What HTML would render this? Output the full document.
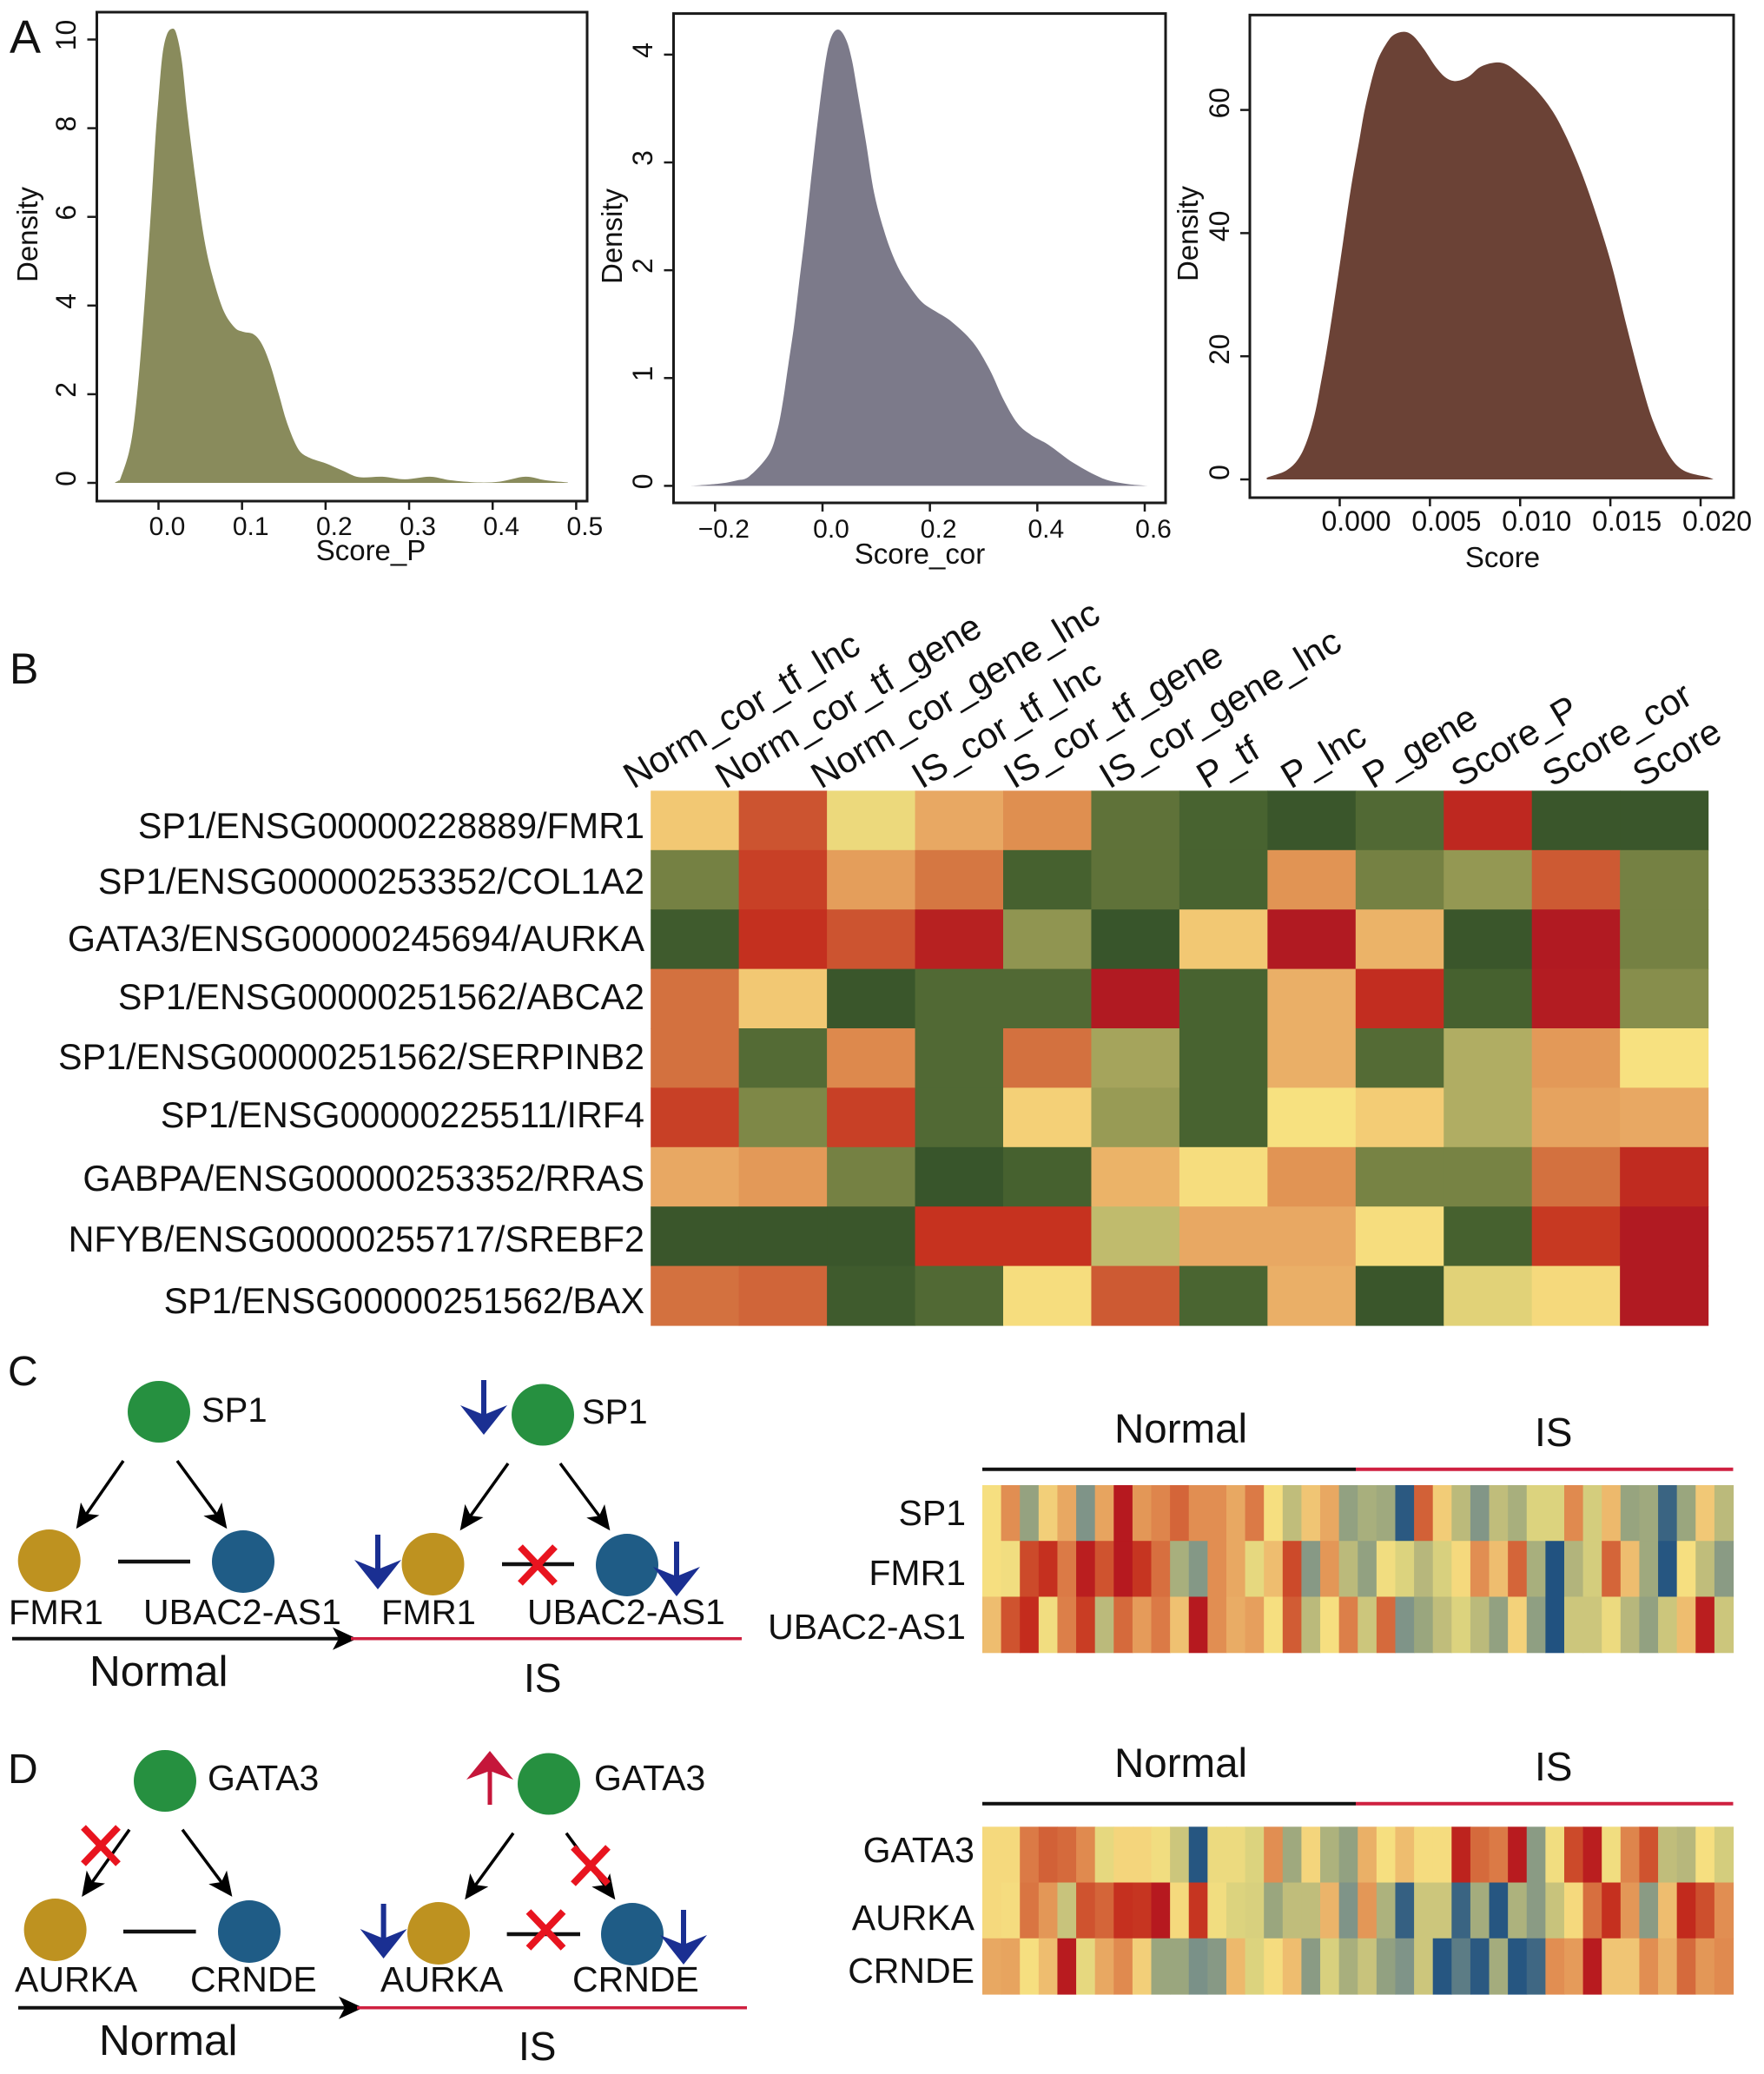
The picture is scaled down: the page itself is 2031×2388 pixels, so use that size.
<!DOCTYPE html>
<html lang="en">
<head>
<meta charset="utf-8">
<title>Density plots, score heatmap and regulatory networks</title>
<style>
html,body{margin:0;padding:0;background:#fff;}
svg{display:block;}
text{font-family:"Liberation Sans",Arial,sans-serif;fill:#111;}
</style>
</head>
<body>
<svg id="fig" xmlns="http://www.w3.org/2000/svg" width="2031" height="2388" viewBox="0 0 2031 2388">
<defs>
<marker id="stealth" markerUnits="userSpaceOnUse" markerWidth="30" markerHeight="30" viewBox="0 0 30 30" refX="24" refY="15" orient="auto">
<path d="M0,2 L28,15 L0,28 L7,15 Z" fill="#000"/>
</marker>
<g id="blue-down">
<rect x="-3" y="0" width="6" height="46" fill="#1a2f92"/>
<polygon points="-27,29 0,40 27,29 0,63" fill="#1a2f92"/>
</g>
<g id="red-x">
<line x1="-20" y1="-21" x2="20" y2="21" stroke="#e8141f" stroke-width="8"/>
<line x1="20" y1="-21" x2="-20" y2="21" stroke="#e8141f" stroke-width="8"/>
</g>
</defs>

<text x="11" y="61" font-size="54">A</text>
<text x="11" y="787" font-size="50">B</text>
<text x="9" y="1595" font-size="48">C</text>
<text x="9" y="2053" font-size="48">D</text>

<g id="panel-a"></g>
<g id="panel-b"></g>

<g font-size="42">
<text transform="translate(729,909) rotate(-31)">Norm_cor_tf_lnc</text>
<text transform="translate(835,909) rotate(-31)">Norm_cor_tf_gene</text>
<text transform="translate(945,909) rotate(-31)">Norm_cor_gene_lnc</text>
<text transform="translate(1061,909) rotate(-31)">IS_cor_tf_lnc</text>
<text transform="translate(1167,909) rotate(-31)">IS_cor_tf_gene</text>
<text transform="translate(1277,909) rotate(-31)">IS_cor_gene_lnc</text>
<text transform="translate(1389,909) rotate(-31)">P_tf</text>
<text transform="translate(1486,909) rotate(-31)">P_lnc</text>
<text transform="translate(1580,909) rotate(-31)">P_gene</text>
<text transform="translate(1682,907) rotate(-31)">Score_P</text>
<text transform="translate(1787,907) rotate(-31)">Score_cor</text>
<text transform="translate(1891,907) rotate(-31)">Score</text>
</g>

<g>
<ellipse cx="183" cy="1625.5" rx="36" ry="35.5" fill="#269040"/>
<text x="232" y="1637" font-size="40">SP1</text>
<line x1="142" y1="1682" x2="90" y2="1757" stroke="#000" stroke-width="3.5" marker-end="url(#stealth)"/>
<line x1="204" y1="1682" x2="259" y2="1757" stroke="#000" stroke-width="3.5" marker-end="url(#stealth)"/>
<ellipse cx="56.7" cy="1797" rx="36" ry="36" fill="#be9220"/>
<ellipse cx="280" cy="1798" rx="36" ry="36" fill="#1f5c86"/>
<line x1="136" y1="1798" x2="219" y2="1798" stroke="#111" stroke-width="4.5"/>
<text x="10" y="1870" font-size="40">FMR1</text>
<text x="165" y="1870" font-size="41">UBAC2-AS1</text>
<line x1="14" y1="1886.7" x2="407" y2="1886.7" stroke="#111" stroke-width="4" marker-end="url(#stealth)"/>
<line x1="404" y1="1886.7" x2="854" y2="1886.7" stroke="#cf2040" stroke-width="3.5"/>
<text x="103" y="1941" font-size="49.5">Normal</text>
<text x="603" y="1948" font-size="46">IS</text>

<ellipse cx="625" cy="1629" rx="36" ry="35.5" fill="#269040"/>
<text x="670" y="1639" font-size="40">SP1</text>
<use href="#blue-down" transform="translate(557,1589)"/>
<line x1="585" y1="1685" x2="532" y2="1759" stroke="#000" stroke-width="3.5" marker-end="url(#stealth)"/>
<line x1="645" y1="1685" x2="700" y2="1759" stroke="#000" stroke-width="3.5" marker-end="url(#stealth)"/>
<ellipse cx="498.5" cy="1801" rx="36" ry="36" fill="#be9220"/>
<use href="#blue-down" transform="translate(435,1767)"/>
<ellipse cx="722" cy="1802" rx="36" ry="36" fill="#1f5c86"/>
<use href="#blue-down" transform="translate(779,1775)"/>
<line x1="578" y1="1801" x2="661" y2="1801" stroke="#111" stroke-width="4.5"/>
<use href="#red-x" transform="translate(619,1802)"/>
<text x="439" y="1870" font-size="40">FMR1</text>
<text x="607" y="1870" font-size="41">UBAC2-AS1</text>
</g>

<g>
<ellipse cx="190" cy="2050.5" rx="36" ry="35.5" fill="#269040"/>
<text x="239" y="2061" font-size="41">GATA3</text>
<line x1="149" y1="2106.7" x2="96.5" y2="2180.7" stroke="#000" stroke-width="3.5" marker-end="url(#stealth)"/>
<line x1="210" y1="2106.7" x2="265" y2="2180.7" stroke="#000" stroke-width="3.5" marker-end="url(#stealth)"/>
<use href="#red-x" transform="translate(116,2125)"/>
<ellipse cx="63.6" cy="2222" rx="36" ry="36" fill="#be9220"/>
<ellipse cx="287" cy="2224" rx="36" ry="36" fill="#1f5c86"/>
<line x1="142" y1="2224" x2="225.6" y2="2224" stroke="#111" stroke-width="4.5"/>
<text x="17" y="2293" font-size="41">AURKA</text>
<text x="219" y="2293" font-size="41">CRNDE</text>
<line x1="21" y1="2311.7" x2="414" y2="2311.7" stroke="#111" stroke-width="4" marker-end="url(#stealth)"/>
<line x1="411" y1="2311.7" x2="860" y2="2311.7" stroke="#cf2040" stroke-width="3.5"/>
<text x="114" y="2366" font-size="49.5">Normal</text>
<text x="597" y="2372" font-size="46">IS</text>

<ellipse cx="632" cy="2054" rx="36" ry="35.5" fill="#269040"/>
<text x="684" y="2061" font-size="41">GATA3</text>
<g>
<rect x="561.5" y="2034" width="5" height="44" fill="#c5163a"/>
<polygon points="564,2016 591,2049 564,2039 537,2049" fill="#c5163a"/>
</g>
<line x1="591" y1="2110.7" x2="537.6" y2="2184" stroke="#000" stroke-width="3.5" marker-end="url(#stealth)"/>
<line x1="652" y1="2110.7" x2="706" y2="2184" stroke="#000" stroke-width="3.5" marker-end="url(#stealth)"/>
<use href="#red-x" transform="translate(680,2148)"/>
<ellipse cx="505" cy="2226" rx="36" ry="36" fill="#be9220"/>
<use href="#blue-down" transform="translate(441.6,2192)"/>
<ellipse cx="728" cy="2227" rx="36" ry="36" fill="#1f5c86"/>
<use href="#blue-down" transform="translate(787,2199)"/>
<line x1="583.6" y1="2227" x2="668" y2="2227" stroke="#111" stroke-width="4.5"/>
<use href="#red-x" transform="translate(628.5,2222)"/>
<text x="438" y="2293" font-size="41">AURKA</text>
<text x="659" y="2293" font-size="41">CRNDE</text>
</g>

<g id="panel-c-heat"></g>
<g id="panel-d-heat"></g>
</svg>

<script>
/* ---------- Panel A data ---------- */
const scorePX = [-0.052,-0.048,-0.0451,-0.0351,-0.0285,-0.0218,-0.0153,-0.0086,-0.0040,0,0.0047,0.0100,0.0159,0.0212,0.0279,0.0345,0.0444,0.0544,0.0643,0.0775,0.0908,0.1007,0.1140,0.1240,0.1339,0.1439,0.1538,0.1671,0.1804,0.2003,0.2201,0.2400,0.268,0.295,0.325,0.349,0.382,0.409,0.439,0.463,0.490];
const scorePDensity = [0.01,0.05,0.12,0.71,1.49,2.79,4.43,6.25,7.69,8.67,9.65,10.11,10.24,10.14,9.52,8.34,6.84,5.54,4.69,3.90,3.51,3.41,3.35,3.12,2.66,2.01,1.36,0.77,0.57,0.44,0.28,0.13,0.14,0.08,0.14,0.06,0.01,0.03,0.14,0.06,0.01];
const scorePXTicks = [0,0.1,0.2,0.3,0.4,0.5];
const scorePXLabels = ['0.0','0.1','0.2','0.3','0.4','0.5'];
const scorePYTicks = [0,2,4,6,8,10];

const scoreCorX = [-0.245,-0.193,-0.160,-0.136,-0.100,-0.0844,-0.0740,-0.0638,-0.0534,-0.0431,-0.0327,-0.0225,-0.0121,-0.0018,0.0086,0.0188,0.0313,0.0447,0.0551,0.0653,0.0808,0.0964,0.1169,0.1377,0.1582,0.1841,0.2099,0.2410,0.2802,0.311,0.337,0.363,0.389,0.421,0.468,0.521,0.563,0.605];
const scoreCorDensity = [0,0.02,0.05,0.09,0.29,0.51,0.77,1.12,1.47,1.90,2.33,2.79,3.25,3.67,4.02,4.19,4.23,4.13,3.94,3.65,3.19,2.71,2.33,2.06,1.88,1.71,1.62,1.52,1.33,1.08,0.80,0.58,0.47,0.38,0.21,0.07,0.02,0];
const scoreCorXTicks = [-0.2,0,0.2,0.4,0.6];
const scoreCorXLabels = ['\u22120.2','0.0','0.2','0.4','0.6'];
const scoreCorYTicks = [0,1,2,3,4];

const scoreX = [-0.00404,-0.00395,-0.00296,-0.00229,-0.00180,-0.00138,-0.00105,-0.00072,-0.00042,-0.00018,0.00006,0.00029,0.00052,0.00078,0.00107,0.00135,0.00168,0.00209,0.00259,0.00300,0.00358,0.00408,0.00466,0.00532,0.00590,0.00648,0.00714,0.00780,0.00863,0.00929,0.01012,0.01103,0.01186,0.01261,0.01343,0.01426,0.01509,0.01592,0.01675,0.01740,0.01824,0.01906,0.02038,0.02071];
const scoreDensity = [0.1,0.38,1.45,3.34,6.39,10.6,15.6,21.0,26.6,31.3,36.0,40.7,45.4,50.1,54.8,59.5,63.8,68.0,70.8,72.2,72.7,72.0,69.9,67.0,65.2,64.7,65.4,67.0,67.7,67.3,65.4,62.8,59.5,55.3,49.6,42.6,34.6,24.7,15.3,9.2,4.0,1.45,0.38,0];
const scoreXTicks = [0,0.005,0.01,0.015,0.02];
const scoreXLabels = ['0.000','0.005','0.010','0.015','0.020'];
const scoreYTicks = [0,20,40,60];

/* ---------- Panel B data ---------- */
const heatRowLabels = ['SP1/ENSG00000228889/FMR1','SP1/ENSG00000253352/COL1A2','GATA3/ENSG00000245694/AURKA','SP1/ENSG00000251562/ABCA2','SP1/ENSG00000251562/SERPINB2','SP1/ENSG00000225511/IRF4','GABPA/ENSG00000253352/RRAS','NFYB/ENSG00000255717/SREBF2','SP1/ENSG00000251562/BAX'];
const heatRow1 = [61,85,49,70,75,20,10,2,14,94,2,2];
const heatRow2 = [28,88,72,79,9,20,10,74,28,36,84,28];
const heatRow3 = [5,91,85,97,35,1,61,100,67,2,100,28];
const heatRow4 = [80,61,2,14,14,100,10,68,92,9,99,33];
const heatRow5 = [80,15,76,14,80,40,10,68,15,42,73,50];
const heatRow6 = [88,31,88,14,58,37,10,50,60,42,71,70];
const heatRow7 = [70,73,28,1,9,67,52,74,29,29,80,93];
const heatRow8 = [2,2,2,90,90,45,70,70,52,9,89,100];
const heatRow9 = [80,82,5,14,52,84,11,68,2,48,54,100];
const heatMatrix = [heatRow1,heatRow2,heatRow3,heatRow4,heatRow5,heatRow6,heatRow7,heatRow8,heatRow9];

/* ---------- Panel C data ---------- */
const cGenes = ['SP1','FMR1','UBAC2-AS1'];
const cSP1 = [50,71,28,55,65,20,66,100,69,73,79,71,71,65,75,50,38,58,65,27,33,31,3,80,56,37,21,38,33,45,45,72,43,61,29,31,6,30,57,37];
const cFMR1 = [50,49,85,91,75,98,83,100,90,77,33,22,71,65,47,60,85,23,69,37,27,49,45,36,44,52,71,60,79,33,1,35,43,79,60,31,2,50,38,24];
const cUBAC = [60,83,92,49,74,88,37,78,68,75,59,100,71,64,67,50,81,37,50,74,41,78,20,30,38,45,37,27,54,26,1,41,41,48,36,27,41,60,98,41];

/* ---------- Panel D data ---------- */
const dGenes = ['GATA3','AURKA','CRNDE'];
const dGATA3 = [52,52,75,80,78,72,47,53,53,49,41,2,48,48,45,71,31,53,34,27,63,50,60,51,51,96,78,75,99,24,49,85,98,49,73,83,38,36,50,43];
const dAURKA = [52,51,76,69,40,83,79,91,90,100,52,90,49,45,44,30,38,38,62,20,69,34,5,41,41,6,32,2,34,24,40,52,77,91,69,24,60,93,84,71];
const dCRNDE = [65,66,50,60,99,47,65,72,55,30,30,19,23,61,45,51,60,24,44,33,40,27,20,41,2,13,3,32,2,7,71,68,99,58,58,71,63,78,69,72];

/* ---------- Colour scales ---------- */
const greenRamp = [[0,'#36532a'],[10,'#486330'],[20,'#5f7239'],[30,'#7a8545'],[40,'#a5a45c'],[45,'#c0bb6d'],[50,'#f7e180'],[60,'#f3cc75'],[70,'#e8a863'],[75,'#df8f50'],[80,'#d3713f'],[85,'#cc5430'],[90,'#c6321f'],[100,'#b11a22']];
const blueRamp = [[0,'#1c4f80'],[20,'#7f9488'],[30,'#9aa67e'],[38,'#c0bd7b'],[45,'#dcd37e'],[50,'#f6df80'],[58,'#f0c574'],[65,'#e8a862'],[72,'#e08a4f'],[78,'#d56a3c'],[85,'#cc4a2a'],[92,'#c42c1d'],[100,'#b6191f']];

function hexToRgb(h){return [1,3,5].map(i=>parseInt(h.substr(i,2),16));}
function rampColor(ramp,v){
  v=Math.max(ramp[0][0],Math.min(ramp[ramp.length-1][0],v));
  for(let i=1;i<ramp.length;i++){
    if(v<=ramp[i][0]){
      const t=(v-ramp[i-1][0])/(ramp[i][0]-ramp[i-1][0]);
      const a=hexToRgb(ramp[i-1][1]),b=hexToRgb(ramp[i][1]);
      return 'rgb('+a.map((c,k)=>Math.round(c+(b[k]-c)*t)).join(',')+')';
    }
  }
  return ramp[ramp.length-1][1];
}

const NS='http://www.w3.org/2000/svg';
function mk(parent,tag,attrs,txt){
  const e=document.createElementNS(NS,tag);
  for(const k in attrs)e.setAttribute(k,attrs[k]);
  if(txt!==undefined)e.textContent=txt;
  parent.appendChild(e);
  return e;
}
function linear(d0,d1,r0,r1){return v=>r0+(v-d0)*(r1-r0)/(d1-d0);}

function smoothPath(pts){
  let d='M'+pts[0][0].toFixed(1)+','+pts[0][1].toFixed(1);
  for(let i=0;i<pts.length-1;i++){
    const p0=pts[Math.max(i-1,0)],p1=pts[i],p2=pts[i+1],p3=pts[Math.min(i+2,pts.length-1)];
    const c1=[p1[0]+(p2[0]-p0[0])/6,p1[1]+(p2[1]-p0[1])/6];
    const c2=[p2[0]-(p3[0]-p1[0])/6,p2[1]-(p3[1]-p1[1])/6];
    d+=' C'+c1[0].toFixed(1)+','+c1[1].toFixed(1)+' '+c2[0].toFixed(1)+','+c2[1].toFixed(1)+' '+p2[0].toFixed(1)+','+p2[1].toFixed(1);
  }
  return d;
}

function densityPlot(o){
  const root=document.getElementById('panel-a');
  const g=mk(root,'g',{});
  
  
  const pts=o.xs.map((v,i)=>[o.x(v),o.y(o.ys[i])]);
  const base=o.y(0);
  const area=mk(g,'path',{d:smoothPath(pts)+' L'+pts[pts.length-1][0].toFixed(1)+','+base+' L'+pts[0][0].toFixed(1)+','+base+' Z',fill:o.fill});
  
  
  const box=mk(g,'rect',{x:o.box[0],y:o.box[1],width:o.box[2]-o.box[0],height:o.box[3]-o.box[1],fill:'none',stroke:'#1a1a1a','stroke-width':3});
  
  
  o.xTicks.forEach((t,i)=>{
    const px=o.x(t);
    const tk=mk(g,'line',{x1:px,x2:px,y1:o.box[3],y2:o.box[3]+10,stroke:'#1a1a1a','stroke-width':2.5});
    
    
    const lb=mk(g,'text',{x:px+o.xLabelShift,y:o.xLabelY,'font-size':o.tickFont,'text-anchor':'middle'},o.xLabels[i]);
    
    
  });
  o.yTicks.forEach(t=>{
    const py=o.y(t);
    const tk=mk(g,'line',{x1:o.box[0]-11,x2:o.box[0],y1:py,y2:py,stroke:'#1a1a1a','stroke-width':2.5});
    
    
    const lb=mk(g,'text',{transform:'translate('+o.yLabelX+','+(py-o.yLabelShift)+') rotate(-90)','font-size':32,'text-anchor':'middle'},String(t));
    
    
  });
  const xt=mk(g,'text',{x:o.xTitle[0],y:o.xTitle[1],'font-size':33,'text-anchor':'middle'},o.xTitleText);
  
  
  const yt=mk(g,'text',{transform:'translate('+o.yTitle[0]+','+o.yTitle[1]+') rotate(-90)','font-size':33,'text-anchor':'middle'},'Density');
  
  
}

densityPlot({name:'score-p',xs:scorePX,ys:scorePDensity,fill:'#898b5c',box:[111.5,14,676,577],
  x:linear(0,0.5,182.5,663.4),y:linear(0,10,556,45.5),xTicks:scorePXTicks,xLabels:scorePXLabels,yTicks:scorePYTicks,
  xLabelY:616,xLabelShift:10,tickFont:30,yLabelX:87,yLabelShift:5,xTitle:[427,645],xTitleText:'Score_P',yTitle:[43,270]});
densityPlot({name:'score-cor',xs:scoreCorX,ys:scoreCorDensity,fill:'#7c7a8a',box:[775.5,15.6,1342,579],
  x:linear(0,0.6,947,1318),y:linear(0,4,559.4,62.9),xTicks:scoreCorXTicks,xLabels:scoreCorXLabels,yTicks:scoreCorYTicks,
  xLabelY:619,xLabelShift:10,tickFont:30,yLabelX:751,yLabelShift:5,xTitle:[1059,649],xTitleText:'Score_cor',yTitle:[716,272]});
densityPlot({name:'score',xs:scoreX,ys:scoreDensity,fill:'#6b4236',box:[1439,17.3,1996,573],
  x:linear(0,0.02,1542.5,1958),y:linear(0,60,552,126.6),xTicks:scoreXTicks,xLabels:scoreXLabels,yTicks:scoreYTicks,
  xLabelY:611,xLabelShift:19,tickFont:32,yLabelX:1415,yLabelShift:8,xTitle:[1730,653],xTitleText:'Score',yTitle:[1379,269]});

/* ---------- Heatmaps ---------- */
function heatmap(rootId,prefix,matrix,ramp,left,right,top,bottom){
  const root=document.getElementById(rootId);
  const nRows=matrix.length,nCols=matrix[0].length;
  const xBand=linear(0,nCols,left,right),yBand=linear(0,nRows,top,bottom);
  matrix.forEach((row,r)=>row.forEach((v,c)=>{
    const cell=mk(root,'rect',{x:xBand(c).toFixed(2),y:yBand(r).toFixed(2),width:(xBand(c+1)-xBand(c)+0.6).toFixed(2),height:(yBand(r+1)-yBand(r)+0.6).toFixed(2),fill:rampColor(ramp,v)});
    
    
  }));
}
heatmap('panel-b','score-heatmap',heatMatrix,greenRamp,749.2,1966.6,910.4,1526);
const bBaselines=[965,1029,1095,1162,1231,1298,1371,1441,1512];
heatRowLabels.forEach((t,i)=>{
  const lb=mk(document.getElementById('panel-b'),'text',{x:742,y:bBaselines[i],'font-size':41.3,'text-anchor':'end'},t);
  
  
});

function exprHeat(rootId,prefix,rows,genes,top,bottom,lineY,normalY,isY,labelYs,labelRight){
  heatmap(rootId,prefix,rows,blueRamp,1131,1995.5,top,bottom);
  const root=document.getElementById(rootId);
  const black=mk(root,'line',{x1:1131,x2:1561,y1:lineY,y2:lineY,stroke:'#111','stroke-width':4});
  
  
  const red=mk(root,'line',{x1:1561,x2:1995.5,y1:lineY,y2:lineY,stroke:'#cf2040','stroke-width':4});
  
  
  const n=mk(root,'text',{x:1283,y:normalY,'font-size':47.5},'Normal');
  
  
  const s=mk(root,'text',{x:1767,y:isY,'font-size':46},'IS');
  
  
  genes.forEach((g,i)=>{
    const lb=mk(root,'text',{x:labelRight,y:labelYs[i],'font-size':41,'text-anchor':'end'},g);
    
    
  });
}
exprHeat('panel-c-heat','expression-c',[cSP1,cFMR1,cUBAC],cGenes,1710,1902.7,1691.7,1661,1665,[1756,1825,1887],1112);
exprHeat('panel-d-heat','expression-d',[dGATA3,dAURKA,dCRNDE],dGenes,2103.3,2296,2076.7,2046,2050,[2144,2222,2283],1122);
</script>
</body>
</html>
